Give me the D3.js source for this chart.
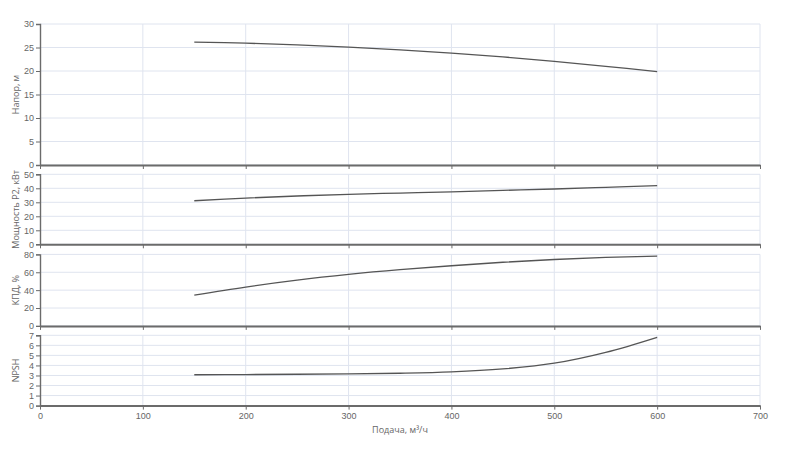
<!DOCTYPE html>
<html>
<head>
<meta charset="utf-8">
<script src="https://cdn.jsdelivr.net/npm/d3@7"></script>
<style>
  html, body { margin: 0; padding: 0; background: #fff; }
  svg { display: block; font-family: "Open Sans", "DejaVu Sans", sans-serif; }
</style>
</head>
<body>
<svg id="chart" width="800" height="472"></svg>
<script>
// ---- data ----
const flow = [150, 200, 250, 300, 350, 400, 450, 500, 550, 600];
const head = [26.13, 25.92, 25.56, 25.08, 24.5, 23.82, 23.0, 22.05, 21.0, 19.87];
const power = [31.1, 33.0, 34.5, 35.7, 36.6, 37.5, 38.5, 39.5, 40.7, 41.9];
const efficiency = [34.4, 43.5, 51.2, 57.6, 62.9, 67.3, 71.2, 74.3, 76.6, 78.1];
const npsh = [3.07, 3.09, 3.12, 3.16, 3.22, 3.35, 3.65, 4.22, 5.3, 6.8];
const xTicks = [0, 100, 200, 300, 400, 500, 600, 700];
const panelTitles = ["Напор, м", "Мощность P2, кВт", "КПД, %", "NPSH"];
const panelMax = [30, 50, 80, 7];
const panelTicks = [
  [0, 5, 10, 15, 20, 25, 30],
  [0, 10, 20, 30, 40, 50],
  [0, 20, 40, 60, 80],
  [0, 1, 2, 3, 4, 5, 6, 7]
];
const xTitle = "Подача, м³/ч";

// ---- layout ----
const svg = d3.select("#chart");
const left = 40, right = 760;
const panels = [
  { top: 24, bottom: 165, values: head },
  { top: 174.3, bottom: 244.3, values: power },
  { top: 254.4, bottom: 325.9, values: efficiency },
  { top: 335.3, bottom: 405.6, values: npsh }
];
const x = d3.scaleLinear().domain([0, 700]).range([left, right]);
const gridColor = "#dfe4ef";
const axisColor = "#6b6b6b";
const textColor = "#666";

panels.forEach((p, i) => {
  const y = d3.scaleLinear().domain([0, panelMax[i]]).range([p.bottom, p.top]);
  const g = svg.append("g");

  // grid
  g.append("g").selectAll("line.h").data(panelTicks[i]).join("line")
    .attr("x1", left).attr("x2", right)
    .attr("y1", d => y(d)).attr("y2", d => y(d))
    .attr("stroke", gridColor).attr("stroke-width", 1);
  g.append("g").selectAll("line.v").data(xTicks.slice(1)).join("line")
    .attr("x1", d => x(d)).attr("x2", d => x(d))
    .attr("y1", p.top).attr("y2", p.bottom)
    .attr("stroke", gridColor).attr("stroke-width", 1);

  // y axis
  const ya = g.append("g").attr("transform", `translate(${left},0)`)
    .call(d3.axisLeft(y).tickValues(panelTicks[i]).tickSize(4).tickPadding(2).tickFormat(d3.format("d")));
  ya.select(".domain").attr("stroke", axisColor).attr("stroke-width", 1.4);
  ya.selectAll(".tick line").attr("stroke", axisColor);
  ya.selectAll("text").attr("fill", textColor).attr("font-size", 9);

  // x axis
  const xa = g.append("g").attr("transform", `translate(0,${p.bottom})`)
    .call(d3.axisBottom(x).tickValues(xTicks).tickSize(4).tickSizeOuter(0).tickPadding(3)
      .tickFormat(i === panels.length - 1 ? d3.format("d") : ""));
  xa.select(".domain").attr("stroke", axisColor).attr("stroke-width", 2);
  xa.selectAll(".tick line").attr("stroke", axisColor);
  xa.selectAll("text").attr("fill", textColor).attr("font-size", 9);

  // y title
  g.append("text")
    .attr("transform", `translate(19,${(p.top + p.bottom) / 2}) rotate(-90)`)
    .attr("text-anchor", "middle")
    .attr("fill", textColor).attr("font-size", 9)
    .text(panelTitles[i]);

  // curve
  const line = d3.line().x((d, k) => x(flow[k])).y(d => y(d)).curve(d3.curveCatmullRom.alpha(0.5));
  g.append("path").datum(p.values)
    .attr("d", line)
    .attr("fill", "none").attr("stroke", "#555").attr("stroke-width", 1.3);
});

svg.append("text")
  .attr("x", (left + right) / 2).attr("y", 433)
  .attr("text-anchor", "middle")
  .attr("fill", textColor).attr("font-size", 9)
  .text(xTitle);
</script>
</body>
</html>
